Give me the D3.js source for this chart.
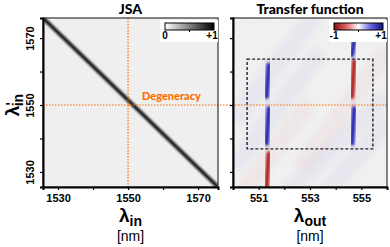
<!DOCTYPE html>
<meta charset="utf-8">
<style>
body { margin: 0; background: #fff; }
svg text { font-family: "Liberation Sans", Arial, sans-serif; }
.title { font-family: Lato, "Open Sans", sans-serif; font-weight: 900; font-size: 14px; }
.tick text { font-weight: bold; font-size: 11px; }
</style>
<body>
<div id="chart"></div>
<script src="https://cdn.jsdelivr.net/npm/d3@7"></script>
<script>
// axis ranges in nm
var jsaX = [1525.7, 1575.7];
var jsaY = [1525.5, 1576];
var tfX = [550, 556];
// ticks
var jsaTicks = [1530, 1540, 1550, 1560, 1570];
var jsaLabels = [1530, 1550, 1570];
var tfTicks = [550, 551, 552, 553, 554, 555, 556];
var tfLabels = [551, 553, 555];
// JSA anti-diagonal (lambda_in, lambda'_in)
var jsaLineX = [1525.7, 1575.7];
var jsaLineY = [1576, 1525.5];
// transfer function lobes: centre lambda_out, lambda'_in from/to, sign
var lobeX = [551.35, 551.35, 551.35, 554.68, 554.68, 554.68];
var lobeY0 = [1552.5, 1538.5, 1525.5, 1565.0, 1552.5, 1538.5];
var lobeY1 = [1562.0, 1549.0, 1535.5, 1569.5, 1563.0, 1549.0];
var lobeSign = [1, 1, -1, 1, -1, 1];
// faint diagonal bands (lambda_out, lambda'_in start -> end, sign)
var bandX0 = [550.0, 550.0, 550.0, 551.6, 552.6, 553.2];
var bandY0 = [1545.0, 1531.5, 1520.0, 1520.0, 1531.0, 1520.0];
var bandX1 = [553.2, 553.4, 553.0, 556.0, 556.0, 556.0];
var bandY1 = [1577.0, 1566.0, 1551.0, 1553.0, 1566.0, 1545.0];
var bandSign = [1, 1, -1, 1, -1, 1];
// dashed region and degeneracy
var boxX = [550.55, 555.45];
var boxY = [1536.9, 1563.7];
var degen = 1550;

var W = 390, H = 247;
var svg = d3.select("#chart").append("svg").attr("width", W).attr("height", H);
var defs = svg.append("defs");
defs.append("filter").attr("id", "blur1").attr("x", "-50%").attr("y", "-50%").attr("width", "200%").attr("height", "200%")
  .append("feGaussianBlur").attr("stdDeviation", 0.8);
defs.append("filter").attr("id", "blur3").attr("x", "-50%").attr("y", "-50%").attr("width", "200%").attr("height", "200%")
  .append("feGaussianBlur").attr("stdDeviation", 3);

var top0 = 18, bot0 = 187;
var x1 = d3.scaleLinear().domain(jsaX).range([43, 218]);
var y = d3.scaleLinear().domain(jsaY).range([bot0, top0]);
var x2 = d3.scaleLinear().domain(tfX).range([233, 387]);

function panel(x, id) {
  var g = svg.append("g");
  var r = x.range();
  defs.append("clipPath").attr("id", id).append("rect")
    .attr("x", r[0]).attr("y", top0).attr("width", r[1] - r[0]).attr("height", bot0 - top0);
  g.append("rect").attr("x", r[0]).attr("y", top0).attr("width", r[1] - r[0]).attr("height", bot0 - top0)
    .attr("fill", "#efefef");
  return g.append("g").attr("clip-path", "url(#" + id + ")");
}

// ---- JSA panel
var p1 = panel(x1, "c1");
p1.append("path")
  .datum(d3.zip(jsaLineX, jsaLineY))
  .attr("d", d3.line().x(function(d) { return x1(d[0]); }).y(function(d) { return y(d[1]); }))
  .attr("stroke", "#111").attr("stroke-width", 3.8).attr("fill", "none").attr("filter", "url(#blur1)");

// ---- transfer function panel
var p2 = panel(x2, "c2");
var bands = d3.range(bandX0.length);
p2.selectAll(".band").data(bands).enter().append("line")
  .attr("x1", function(i) { return x2(bandX0[i]); })
  .attr("y1", function(i) { return y(bandY0[i]); })
  .attr("x2", function(i) { return x2(bandX1[i]); })
  .attr("y2", function(i) { return y(bandY1[i]); })
  .attr("stroke", function(i) { return bandSign[i] > 0 ? "#6a6ae0" : "#e06a6a"; })
  .attr("stroke-width", 18).attr("opacity", 0.07).attr("filter", "url(#blur3)");
// vertical streak texture
p2.selectAll(".streak").data(d3.range(tfX[0], tfX[1], 0.08)).enter().append("line")
  .attr("x1", function(d) { return x2(d); }).attr("x2", function(d) { return x2(d); })
  .attr("y1", top0).attr("y2", bot0)
  .attr("stroke", "#ffffff").attr("stroke-width", 0.6).attr("opacity", 0.2);

var lobes = d3.range(lobeX.length);
p2.selectAll(".lobe").data(lobes).enter().append("line")
  .attr("x1", function(i) { return x2(lobeX[i] - 0.04); })
  .attr("y1", function(i) { return y(lobeY0[i]); })
  .attr("x2", function(i) { return x2(lobeX[i] + 0.04); })
  .attr("y2", function(i) { return y(lobeY1[i]); })
  .attr("stroke", function(i) { return lobeSign[i] > 0 ? "#6a6ae8" : "#e86a6a"; })
  .attr("stroke-width", 9).attr("stroke-linecap", "round").attr("opacity", 0.3).attr("filter", "url(#blur3)");
p2.selectAll(".lobeCore").data(lobes).enter().append("line")
  .attr("x1", function(i) { return x2(lobeX[i] - 0.04); })
  .attr("y1", function(i) { return y(lobeY0[i]); })
  .attr("x2", function(i) { return x2(lobeX[i] + 0.04); })
  .attr("y2", function(i) { return y(lobeY1[i]); })
  .attr("stroke", function(i) { return lobeSign[i] > 0 ? "#2828b4" : "#b42020"; })
  .attr("stroke-width", 4.2).attr("stroke-linecap", "round").attr("filter", "url(#blur1)");

// dashed box
svg.append("rect")
  .attr("x", x2(boxX[0])).attr("y", y(boxY[1]))
  .attr("width", x2(boxX[1]) - x2(boxX[0])).attr("height", y(boxY[0]) - y(boxY[1]))
  .attr("fill", "none").attr("stroke", "#222").attr("stroke-width", 1.4).attr("stroke-dasharray", "3,2");

// degeneracy lines
var orange = "#ff6a00";
svg.append("line").attr("x1", x1(degen)).attr("x2", x1(degen)).attr("y1", top0).attr("y2", bot0)
  .attr("stroke", orange).attr("stroke-width", 1.2).attr("stroke-dasharray", "1.5,1.5");
svg.append("line").attr("x1", x1.range()[0]).attr("x2", x2.range()[1]).attr("y1", y(degen)).attr("y2", y(degen))
  .attr("stroke", orange).attr("stroke-width", 1.2).attr("stroke-dasharray", "1.5,1.5");
svg.append("text").attr("x", 142).attr("y", y(degen) - 5)
  .attr("fill", orange).attr("class", "title").style("font-size", "11px").text("Degeneracy");

// frames and axes
[x1, x2].forEach(function(x) {
  var r = x.range();
  svg.append("rect").attr("x", r[0]).attr("y", top0).attr("width", r[1] - r[0]).attr("height", bot0 - top0)
    .attr("fill", "none").attr("stroke", "#333").attr("stroke-width", 1.2);
});
function styleAxis(g) {
  g.select(".domain").attr("stroke", "#000").attr("stroke-width", 2);
  g.selectAll(".tick line").attr("stroke", "#000").attr("stroke-width", 1.2);
}
var fmtJ = function(d) { return jsaLabels.indexOf(d) >= 0 ? d : ""; };
svg.append("g").attr("transform", "translate(0," + bot0 + ")")
  .call(d3.axisBottom(x1).tickValues(jsaTicks).tickFormat(fmtJ).tickSizeOuter(0).tickSize(3).tickPadding(4))
  .call(styleAxis).selectAll("text").attr("fill", "#000");
svg.append("g").attr("transform", "translate(0," + bot0 + ")")
  .call(d3.axisBottom(x2).tickValues(tfTicks).tickFormat(function(d) { return tfLabels.indexOf(d) >= 0 ? d : ""; })
    .tickSizeOuter(0).tickSize(3).tickPadding(4))
  .call(styleAxis).selectAll("text").attr("fill", "#000");
var yAx = svg.append("g").attr("transform", "translate(43,0)")
  .call(d3.axisLeft(y).tickValues(jsaTicks).tickFormat(fmtJ).tickSizeOuter(0).tickSize(3))
  .call(styleAxis);
yAx.selectAll(".tick text").attr("fill", "#000").attr("transform", "rotate(-90)")
  .attr("x", 0).attr("y", -9).attr("dy", 0).style("text-anchor", "middle");
svg.append("g").attr("transform", "translate(" + x2.range()[0] + ",0)")
  .call(d3.axisLeft(y).tickValues(jsaTicks).tickFormat("").tickSizeOuter(0).tickSize(3))
  .call(styleAxis);

// titles
svg.append("text").attr("class", "title").attr("x", d3.mean(x1.range())).attr("y", 14)
  .attr("text-anchor", "middle").text("JSA");
svg.append("text").attr("class", "title").attr("x", d3.mean(x2.range())).attr("y", 14)
  .attr("text-anchor", "middle").text("Transfer function");

// axis labels
function lamLabel(cx, cy, sub, rot, prime) {
  var t = svg.append("text").attr("text-anchor", "middle").attr("font-weight", "bold")
    .attr("transform", "translate(" + cx + "," + cy + ")" + (rot ? " rotate(-90)" : ""));
  t.append("tspan").style("font-size", "19px").text("λ");
  if (prime) {
    t.append("tspan").style("font-size", "14px").attr("dy", -3).text("'");
    t.append("tspan").style("font-size", "14px").attr("dx", -4).attr("dy", 7).text(sub);
  } else {
    t.append("tspan").style("font-size", "14px").attr("dy", 4).text(sub);
  }
  return t;
}
lamLabel(d3.mean(x1.range()), 222, "in");
lamLabel(d3.mean(x2.range()), 222, "out");
lamLabel(19, y(degen), "in", true, true);
[x1, x2].forEach(function(x) {
  svg.append("text").attr("x", d3.mean(x.range())).attr("y", 241).attr("text-anchor", "middle")
    .style("font-size", "14px").text("[nm]");
});

// colorbars
function colorbar(x0, x1b, stops, lo, hi, id) {
  var gr = defs.append("linearGradient").attr("id", id);
  stops.forEach(function(c, i) {
    gr.append("stop").attr("offset", i / (stops.length - 1)).attr("stop-color", c);
  });
  svg.append("rect").attr("x", x0 - 5).attr("y", 20).attr("width", x1b - x0 + 9).attr("height", 22).attr("fill", "#fff");
  svg.append("rect").attr("x", x0).attr("y", 23).attr("width", x1b - x0).attr("height", 7)
    .attr("fill", "url(#" + id + ")").attr("stroke", "#000").attr("stroke-width", 1);
  svg.append("line").attr("x1", (x0 + x1b) / 2).attr("x2", (x0 + x1b) / 2).attr("y1", 30).attr("y2", 32)
    .attr("stroke", "#000");
  svg.append("text").attr("x", x0).attr("y", 39).attr("text-anchor", "middle")
    .attr("font-weight", "bold").style("font-size", "10px").text(lo);
  svg.append("text").attr("x", x1b - 2).attr("y", 39).attr("text-anchor", "middle")
    .attr("font-weight", "bold").style("font-size", "10px").text(hi);
}
colorbar(165, 214, ["#ffffff", "#000000"], "0", "+1", "g1");
colorbar(334, 383, ["#8a0c14", "#e06464", "#ffffff", "#6464e0", "#10107a"], "-1", "+1", "g2");
</script>
</body>
